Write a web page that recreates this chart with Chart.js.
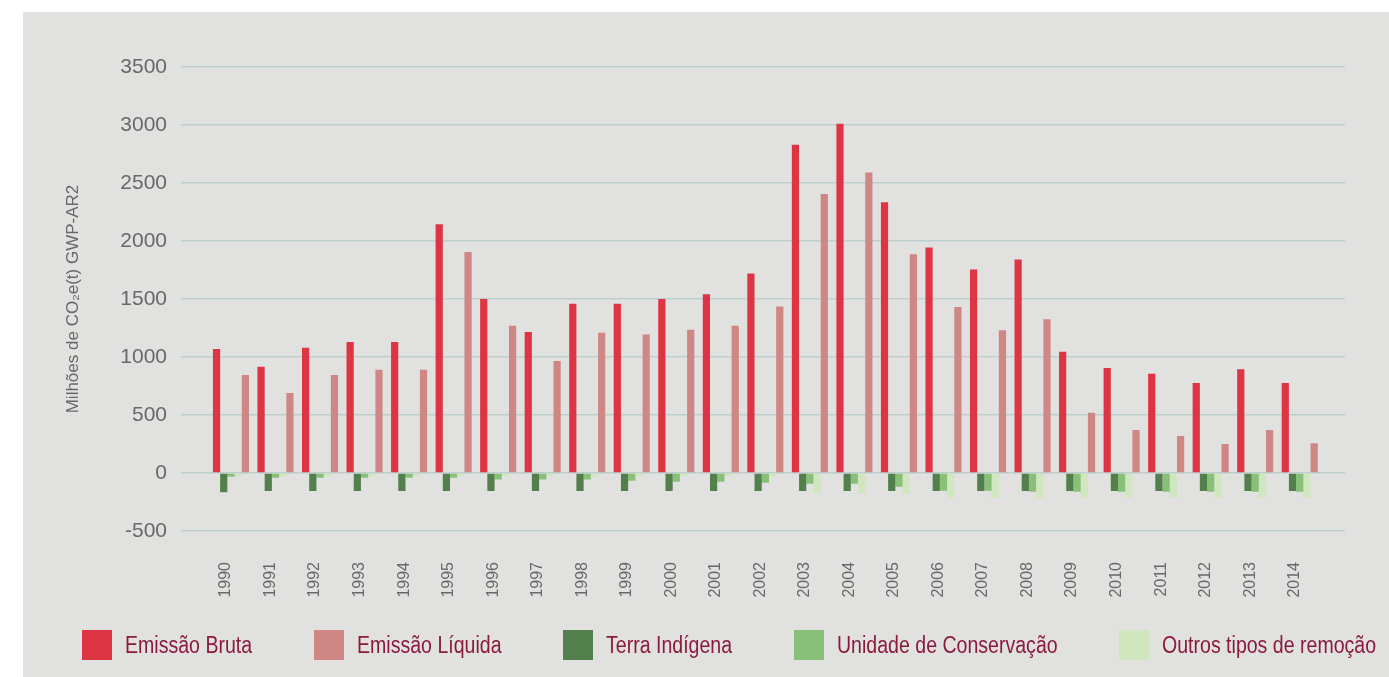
<!DOCTYPE html>
<html>
<head>
<meta charset="utf-8">
<script src="https://cdn.jsdelivr.net/npm/chart.js@4.4.1/dist/chart.umd.min.js"></script>
<style>
  html, body { margin: 0; padding: 0; background: #ffffff; width: 1389px; height: 677px; overflow: hidden; }
  #wrap { position: absolute; left: 23px; top: 12px; width: 1366px; height: 665px; background: #e1e1df; }
  #chartBox { position: absolute; left: 0; top: 0; width: 1366px; height: 665px; }
  canvas { display: block; }
  #legend { position: absolute; left: 59px; top: 618px; width: 1294px; height: 30px; display: flex; justify-content: space-between; align-items: center; }
  .li { display: flex; align-items: center; height: 30px; }
  .sw { width: 30px; height: 30px; margin-right: 13px; flex: none; }
  .lt { display: block; white-space: nowrap; overflow: visible; }
  .lt span { display: inline-block; font-family: 'Liberation Sans', Arial, sans-serif; font-size: 23px; color: #8b1a3f; transform: scaleX(0.85); transform-origin: 0 50%; line-height: 30px; }
</style>
</head>
<body>
<div id="wrap"><div id="chartBox"><canvas id="c"></canvas></div><div id="legend"></div></div>
<script>
const years = ['1990','1991','1992','1993','1994','1995','1996','1997','1998','1999','2000','2001','2002','2003','2004','2005','2006','2007','2008','2009','2010','2011','2012','2013','2014'];
const emissaoBruta = [1070, 915, 1080, 1130, 1130, 2145, 1500, 1215, 1460, 1460, 1500, 1540, 1720, 2830, 3010, 2335, 1945, 1755, 1840, 1045, 905, 855, 775, 895, 775];
const emissaoLiquida = [845, 690, 845, 890, 890, 1905, 1270, 965, 1210, 1195, 1235, 1270, 1435, 2405, 2590, 1885, 1430, 1230, 1325, 520, 370, 320, 250, 370, 257];
const terraIndigena = [-165, -155, -155, -155, -155, -155, -155, -155, -155, -155, -155, -155, -155, -155, -155, -155, -155, -155, -155, -155, -155, -155, -155, -155, -155];
const unidadeConservacao = [-32, -40, -40, -40, -40, -40, -55, -55, -55, -66, -75, -75, -84, -92, -92, -118, -153, -153, -162, -162, -162, -162, -162, -162, -162];
const outrosRemocao = [-28, -28, -28, -28, -28, -25, -28, -28, -28, -28, -28, -28, -28, -179, -179, -179, -214, -214, -214, -214, -214, -214, -214, -214, -214];
const yTicks = { min: -500, max: 3500, step: 500 };
const yTitle = 'Milhões de CO₂e(t) GWP-AR2';
const seriesNames = ['Emissão Bruta', 'Terra Indígena', 'Unidade de Conservação', 'Outros tipos de remoção', 'Emissão Líquida'];
const seriesColors = ['#de3545', '#537f4c', '#88c078', '#d0e6be', '#ce8784'];
const legendOrder = [0, 4, 1, 2, 3];

const REG = "'Liberation Sans', Arial, sans-serif";
const GRID = '#bccfcd';
const TICK = '#686868';

const ds = (i, data) => ({ label: seriesNames[i], data, backgroundColor: seriesColors[i], borderColor: seriesColors[i], borderWidth: 0, barPercentage: 1.0, categoryPercentage: 0.81 });

const htmlLegend = {
  id: 'htmlLegend',
  afterUpdate(chart) {
    const box = document.getElementById('legend');
    box.innerHTML = '';
    const items = Chart.defaults.plugins.legend.labels.generateLabels(chart)
      .sort((a, b) => legendOrder.indexOf(a.datasetIndex) - legendOrder.indexOf(b.datasetIndex));
    items.forEach((it) => {
      const li = document.createElement('div'); li.className = 'li';
      const sw = document.createElement('div'); sw.className = 'sw'; sw.style.background = it.fillStyle;
      const lt = document.createElement('div'); lt.className = 'lt';
      const sp = document.createElement('span'); sp.textContent = it.text;
      lt.appendChild(sp); li.appendChild(sw); li.appendChild(lt); box.appendChild(li);
      lt.style.width = sp.getBoundingClientRect().width + 'px';
    });
  }
};

new Chart(document.getElementById('c'), {
  type: 'bar',
  data: {
    labels: years,
    datasets: [
      ds(0, emissaoBruta),
      ds(1, terraIndigena),
      ds(2, unidadeConservacao),
      ds(3, outrosRemocao),
      ds(4, emissaoLiquida)
    ]
  },
  plugins: [htmlLegend],
  options: {
    responsive: true,
    maintainAspectRatio: false,
    animation: false,
    layout: { padding: { left: 0, right: 0, top: 55, bottom: 0 } },
    plugins: {
      tooltip: { enabled: false },
      legend: { display: false }
    },
    scales: {
      x: {
        grid: { display: false, drawTicks: false },
        border: { display: false },
        ticks: {
          autoSkip: false, minRotation: 90, maxRotation: 90, padding: 31, labelOffset: -5,
          color: TICK, font: { family: REG, size: 16 }
        },
        afterFit: (s) => { s.height = 146; }
      },
      y: {
        min: yTicks.min, max: yTicks.max,
        grid: { color: GRID, lineWidth: 1.5, tickLength: 27.7, drawTicks: true },
        border: { display: false },
        ticks: { stepSize: yTicks.step, padding: 14, color: TICK, font: { family: REG, size: 21 }, callback: (v) => String(v) },
        title: { display: true, text: yTitle, color: TICK, font: { family: REG, size: 17 }, padding: { top: 40, bottom: 0 } },
        afterFit: (s) => { s.width = 185.7; }
      },
      y2: {
        position: 'right',
        min: yTicks.min, max: yTicks.max,
        grid: { color: GRID, lineWidth: 1.5, tickLength: 23, drawOnChartArea: false, drawTicks: true },
        border: { display: false },
        ticks: { stepSize: yTicks.step, display: false },
        afterFit: (s) => { s.width = 67; }
      }
    }
  }
});
</script>
</body>
</html>
